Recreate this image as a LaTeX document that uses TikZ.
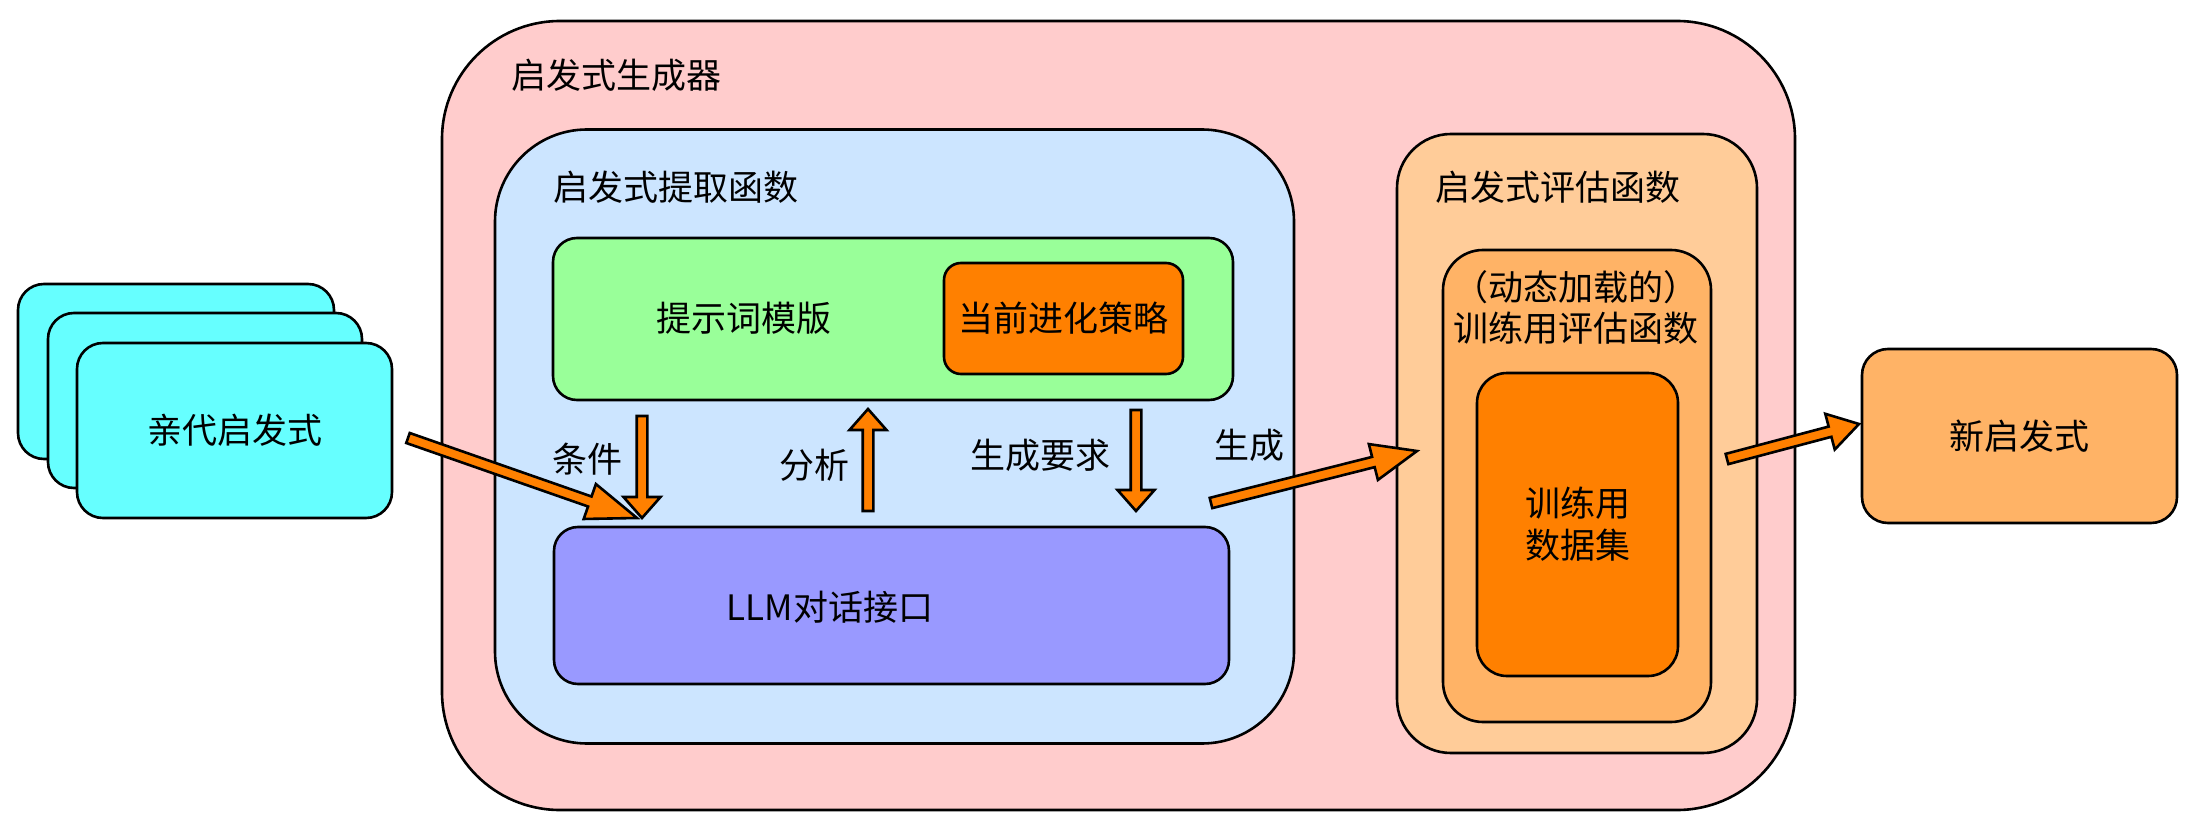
\documentclass[tikz,border=0pt]{standalone}
\usepackage{fontspec}
\setmainfont{Noto Sans CJK SC}
\usetikzlibrary{calc}
\definecolor{cpink}{HTML}{FFCCCC}
\definecolor{cblue}{HTML}{CCE5FF}
\definecolor{cgreen}{HTML}{99FF99}
\definecolor{corange}{HTML}{FF8000}
\definecolor{cpurple}{HTML}{9999FF}
\definecolor{cpeach}{HTML}{FFCC99}
\definecolor{clight}{HTML}{FFB366}
\definecolor{ccyan}{HTML}{66FFFF}
\newcommand\blockarr[3]{%
  \path ($(#2)!#3!(#1)$) coordinate (bh);
  \draw[barrow] ($(#1)!5.3pt!90:(#2)$) -- ($(bh)!5.3pt!90:(#2)$) -- ($(bh)!18.5pt!90:(#2)$) -- (#2)
    -- ($(bh)!18.5pt!-90:(#2)$) -- ($(bh)!5.3pt!-90:(#2)$) -- ($(#1)!5.3pt!-90:(#2)$) -- cycle;}
\begin{document}
\begin{tikzpicture}[x=1pt,y=-1pt,
  rbox/.style={draw=black, line width=2.6pt, inner sep=0pt, font=\fontsize{35pt}{42pt}\selectfont, align=center},
  lbl/.style={inner sep=0pt, font=\fontsize{35pt}{42pt}\selectfont, align=center},
  barrow/.style={draw=black, fill=corange, line width=2.6pt, line join=miter}]
\fill[white] (0,0) rectangle (2198,834);
\useasboundingbox (0,0) rectangle (2198,834);
% containers
\node[rbox, fill=cpink, rounded corners=118pt, minimum width=1353pt, minimum height=789pt] (gen) at (1118.5,415.5) {};
\node[rbox, fill=cblue, rounded corners=92pt, minimum width=799pt, minimum height=614pt] (ext) at (894.5,436.5) {};
\node[rbox, fill=cgreen, rounded corners=24pt, minimum width=680pt, minimum height=162pt] (tpl) at (893,319) {};
\node[rbox, fill=corange, rounded corners=17pt, minimum width=239pt, minimum height=111pt] (strat) at (1063.5,318.5) {当前进化策略};
\node[rbox, fill=cpurple, rounded corners=24pt, minimum width=675pt, minimum height=157pt] (llm) at (891.5,605.5) {};
\node[rbox, fill=cpeach, rounded corners=54pt, minimum width=360pt, minimum height=619pt] (eval) at (1577,443.5) {};
\node[rbox, fill=clight, rounded corners=40pt, minimum width=268pt, minimum height=472pt] (train) at (1577,486) {};
\node[rbox, fill=corange, rounded corners=30pt, minimum width=201pt, minimum height=303pt] (data) at (1577.5,524.5) {训练用\\数据集};
% parents
\node[rbox, fill=ccyan, rounded corners=26pt, minimum width=316pt, minimum height=175pt] (p1) at (176,371.5) {};
\node[rbox, fill=ccyan, rounded corners=26pt, minimum width=314pt, minimum height=175pt] (p2) at (205,400.5) {};
\node[rbox, fill=ccyan, rounded corners=26pt, minimum width=315pt, minimum height=175pt] (p3) at (234.5,430.5) {亲代启发式};
% new
\node[rbox, fill=clight, rounded corners=26pt, minimum width=315pt, minimum height=174pt] (new) at (2019.5,436) {新启发式};
% labels
\node[lbl, anchor=west] (tgen) at (511,75) {启发式生成器};
\node[lbl, anchor=west] (text) at (553,187) {启发式提取函数};
\node[lbl, anchor=west] (teval) at (1435,187) {启发式评估函数};
\node[lbl] (ttpl) at (744,318) {提示词模版};
\node[lbl] (tllm) at (830,607) {LLM对话接口};
\node[lbl, font=\fontsize{35pt}{41pt}\selectfont] (ttrain) at (1576,307.5) {（动态加载的）\\训练用评估函数};
\node[lbl] (tcond) at (587,459) {条件};
\node[lbl] (tana) at (814,465) {分析};
\node[lbl] (treq) at (1040,455) {生成要求};
\node[lbl] (tgenr) at (1249,445) {生成};
% block arrows
\coordinate (a1s) at (408,438); \coordinate (a1e) at (637,518);
\coordinate (a2s) at (642,416); \coordinate (a2e) at (642,518);
\coordinate (a3s) at (868,511); \coordinate (a3e) at (868,409);
\coordinate (a4s) at (1136,410); \coordinate (a4e) at (1136,511);
\coordinate (a5s) at (1211,503); \coordinate (a5e) at (1417,451);
\coordinate (a6s) at (1727,459); \coordinate (a6e) at (1859,424);
\blockarr{a1s}{a1e}{50pt}
\blockarr{a2s}{a2e}{21pt}
\blockarr{a3s}{a3e}{21pt}
\blockarr{a4s}{a4e}{21pt}
\blockarr{a5s}{a5e}{45pt}
\blockarr{a6s}{a6e}{30pt}
\end{tikzpicture}
\end{document}
